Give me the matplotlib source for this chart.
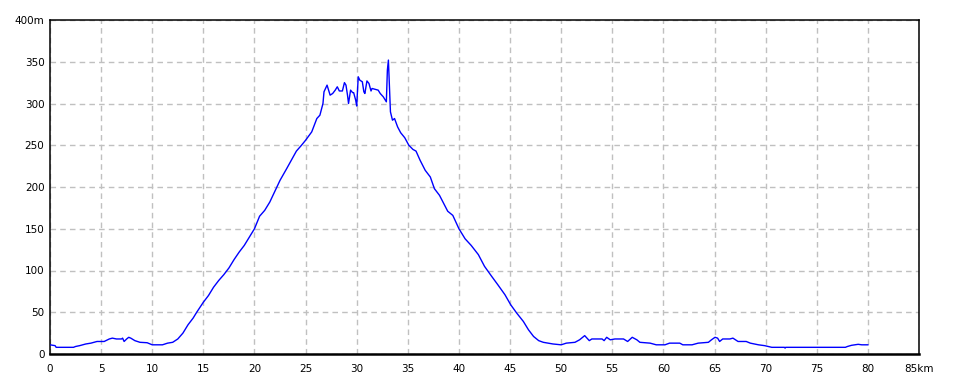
import matplotlib
matplotlib.use("Agg")
import matplotlib.pyplot as plt


# distance along the route (km) and elevation (m)
DIST_KM = [
    0.0, 0.5, 0.6, 2.3, 2.5, 2.9, 3.5, 4.0, 4.6, 5.3, 5.8, 6.1, 6.5, 7.0, 7.1,
    7.25, 7.5, 7.7, 7.9, 8.3, 8.8, 9.5, 10.0, 11.0, 11.5, 12.0, 12.5, 13.0,
    13.5, 14.0, 14.35, 15.0, 15.5, 16.0, 16.5, 17.0, 17.5, 18.0, 18.5, 19.0,
    19.5, 20.0, 20.5, 21.0, 21.5, 22.0, 22.5, 23.15, 23.6, 24.1, 24.6, 25.0,
    25.6, 26.1, 26.4, 26.7, 26.8, 27.1, 27.4, 27.65, 27.9, 28.1, 28.3, 28.6,
    28.8, 28.95, 29.1, 29.2, 29.4, 29.6, 29.7, 29.9, 30.0, 30.1, 30.15, 30.3,
    30.55, 30.7, 30.8, 31.0, 31.2, 31.4, 31.5, 31.8, 32.1, 32.3, 32.6, 32.8,
    32.9, 33.0, 33.1, 33.2, 33.3, 33.5, 33.7, 34.0, 34.3, 34.7, 35.1, 35.5,
    35.8, 36.2, 36.7, 37.2, 37.6, 38.1, 38.6, 38.9, 39.4, 40.0, 40.6, 41.2,
    41.9, 42.5, 43.2, 43.8, 44.5, 45.06, 45.65, 46.3, 46.8, 47.3, 47.8, 48.25,
    49.2, 50.0, 50.5, 51.35, 51.8, 52.3, 52.75, 53.0, 54.0, 54.2, 54.45, 54.8,
    55.26, 56.1, 56.5, 56.95, 57.4, 57.7, 58.7, 59.3, 60.15, 60.6, 61.6, 61.9,
    62.8, 63.4, 64.4, 64.7, 65.05, 65.3, 65.5, 65.8, 66.5, 66.8, 67.3, 68.1,
    68.5, 69.3, 69.9, 70.6, 71.85, 71.9, 71.95, 77.8, 78.0, 78.4, 79.05, 79.4,
    80.0,
]
ELEV_M = [
    11, 10, 8, 8, 9, 10, 12, 13, 15, 15, 18, 19, 18, 18, 19,
    15, 18, 20, 19, 16, 14, 13.5, 11, 11, 13, 14, 18, 25,
    35, 43, 50, 62, 70, 80, 88, 95, 103, 113, 122, 130,
    140, 150, 165, 172, 182, 195, 208, 222, 232, 243, 250, 256,
    266, 282, 286, 300, 314, 322, 310, 312, 316, 320, 315, 315,
    325, 322, 310, 300, 316, 313, 313, 304, 297, 320, 332, 328,
    326, 314, 312, 327, 324, 315, 318, 317, 316, 312, 308, 304,
    302, 340, 352, 322, 290, 280, 282, 272, 265, 259, 250, 245,
    243, 232, 220, 212, 198, 190, 178, 171, 166, 150, 138, 130,
    119, 105, 93, 83, 71, 59, 49, 39, 29, 21, 16, 14,
    12, 11, 13, 14, 17, 22, 16, 18, 18, 16, 20, 17,
    18, 18, 15, 20, 17, 14, 13, 11, 11, 13, 13, 11,
    11, 13, 14, 17, 20, 19, 15, 18, 18, 19, 15, 15,
    13, 11, 10, 8, 8, 7, 8, 8, 9, 10.4, 11.6, 11,
    11,
]

X_TICKS = list(range(0, 90, 5))
X_LABELS = [str(v) for v in X_TICKS[:-1]] + ["85km"]
Y_TICKS = list(range(0, 450, 50))
Y_LABELS = [str(v) for v in Y_TICKS[:-1]] + ["400m"]


def main() -> None:
    fig = plt.figure(figsize=(9.6, 3.84), dpi=100)
    ax = fig.add_axes([50 / 960, 30 / 384, 869 / 960, 334 / 384])

    ax.plot(DIST_KM, ELEV_M, color="#0000ff", linewidth=1.0, zorder=3)

    ax.set_xlim(0, 85)
    ax.set_ylim(0, 400)
    ax.set_xticks(X_TICKS)
    ax.set_xticklabels(X_LABELS)
    ax.set_yticks(Y_TICKS)
    ax.set_yticklabels(Y_LABELS)
    ax.tick_params(length=0, labelsize=7.5)
    ax.tick_params(axis="x", pad=7)
    ax.tick_params(axis="y", pad=4)

    ax.grid(True, color="#c0c0c0", linestyle=(0, (4, 3)), linewidth=1.0, zorder=1)
    for spine in ax.spines.values():
        spine.set_color("black")
        spine.set_linewidth(1.1)
    ax.spines["bottom"].set_linewidth(1.8)

    fig.savefig("out.png", dpi=100)
    plt.close(fig)


if __name__ == "__main__":
    main()
